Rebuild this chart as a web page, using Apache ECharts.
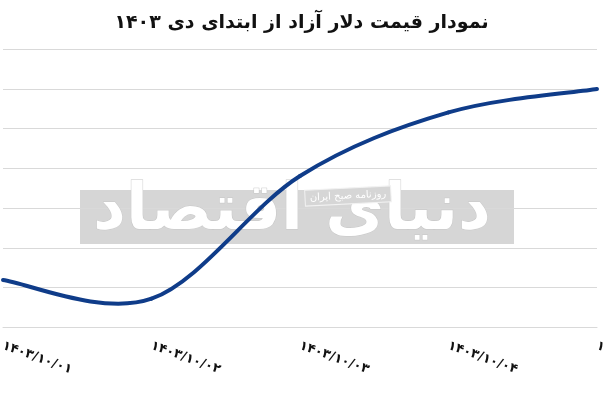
<!DOCTYPE html>
<html>
<head>
<meta charset="utf-8">
<script src="https://cdn.jsdelivr.net/npm/echarts@6/dist/echarts.min.js"></script>
<style>
html,body{margin:0;padding:0;background:#fff;}
#c{width:603px;height:403px;}
</style>
</head>
<body>
<div id="c"></div>
<script>
var titleText = 'نمودار قیمت دلار آزاد از ابتدای دی ۱۴۰۳';
var categories = ['۱۴۰۳/۱۰/۰۱', '۱۴۰۳/۱۰/۰۲', '۱۴۰۳/۱۰/۰۳', '۱۴۰۳/۱۰/۰۴', '۱۴۰۳/۱۰/۰۵'];
var priceValues = [1.19, 0.72, 3.81, 5.41, 6.0];
var watermarkMain = 'دنیای اقتصاد';
var watermarkSub = 'روزنامه صبح ایران';

// Smooth curve through the data points (Catmull-Rom / spreadsheet-style), positioned via the axes
function renderSmoothLine(params, api) {
  if (params.dataIndex !== 0) return null;
  var pts = [];
  for (var i = 0; i < priceValues.length; i++) {
    pts.push(api.coord([i, priceValues[i]]));
  }
  var children = [];
  var n = pts.length;
  for (var k = 0; k < n - 1; k++) {
    var p0 = pts[Math.max(k - 1, 0)];
    var p1 = pts[k];
    var p2 = pts[k + 1];
    var p3 = pts[Math.min(k + 2, n - 1)];
    children.push({
      type: 'bezierCurve',
      shape: {
        x1: p1[0], y1: p1[1],
        x2: p2[0], y2: p2[1],
        cpx1: p1[0] + (p2[0] - p0[0]) / 6,
        cpy1: p1[1] + (p2[1] - p0[1]) / 6,
        cpx2: p2[0] - (p3[0] - p1[0]) / 6,
        cpy2: p2[1] - (p3[1] - p1[1]) / 6
      },
      style: {stroke: '#0f3c89', lineWidth: 4, fill: null, lineCap: 'round'}
    });
  }
  return {type: 'group', children: children};
}

var chart = echarts.init(document.getElementById('c'), null, {renderer: 'canvas'});
chart.setOption({
  backgroundColor: '#ffffff',
  animation: false,
  title: {
    text: titleText,
    left: 'center',
    top: 9,
    textStyle: {fontFamily: 'DejaVu Sans', fontWeight: 'bold', fontSize: 19, color: '#111'}
  },
  grid: {left: 3, right: 6, top: 49.3, bottom: 75.7, containLabel: false, outerBoundsMode: 'none'},
  xAxis: {
    type: 'category',
    data: categories,
    boundaryGap: false,
    axisLine: {show: true, lineStyle: {color: '#d9d9d9', width: 1}},
    axisTick: {show: false},
    axisLabel: {
      rotate: -20,
      interval: 0,
      margin: 18,
      hideOverlap: false,
      fontFamily: 'DejaVu Sans',
      fontWeight: 'bold',
      fontSize: 13,
      color: '#111'
    },
    splitLine: {show: false}
  },
  yAxis: {
    type: 'value',
    min: 0,
    max: 7,
    interval: 1,
    axisLabel: {show: false},
    axisLine: {show: false},
    axisTick: {show: false},
    splitLine: {show: true, lineStyle: {color: '#d9d9d9', width: 1}}
  },
  graphic: [
    {type: 'rect', z: 0, shape: {x: 80, y: 190, width: 434, height: 54}, style: {fill: '#d6d6d6'}},
    {type: 'text', z: 1, x: 292, y: 212, style: {text: watermarkMain, fontFamily: 'DejaVu Sans', fontWeight: 'bold', fontSize: 64, fill: '#ffffff', stroke: '#c8c8c8', lineWidth: 1, align: 'center', verticalAlign: 'middle'}},
    {type: 'rect', z: 1, rotation: 0.05, x: 348, y: 196, shape: {x: -43, y: -8, width: 86, height: 16}, style: {fill: '#d6d6d6', stroke: '#f2f2f2', lineWidth: 1}},
    {type: 'text', z: 2, rotation: 0.05, x: 348, y: 196, style: {text: watermarkSub, fontFamily: 'DejaVu Sans', fontSize: 10, fill: '#ffffff', align: 'center', verticalAlign: 'middle'}}
  ],
  series: [{
    type: 'custom',
    data: priceValues.map(function (v, i) { return [i, v]; }),
    encode: {x: 0, y: 1},
    renderItem: renderSmoothLine,
    z: 5
  }]
});
</script>
</body>
</html>
